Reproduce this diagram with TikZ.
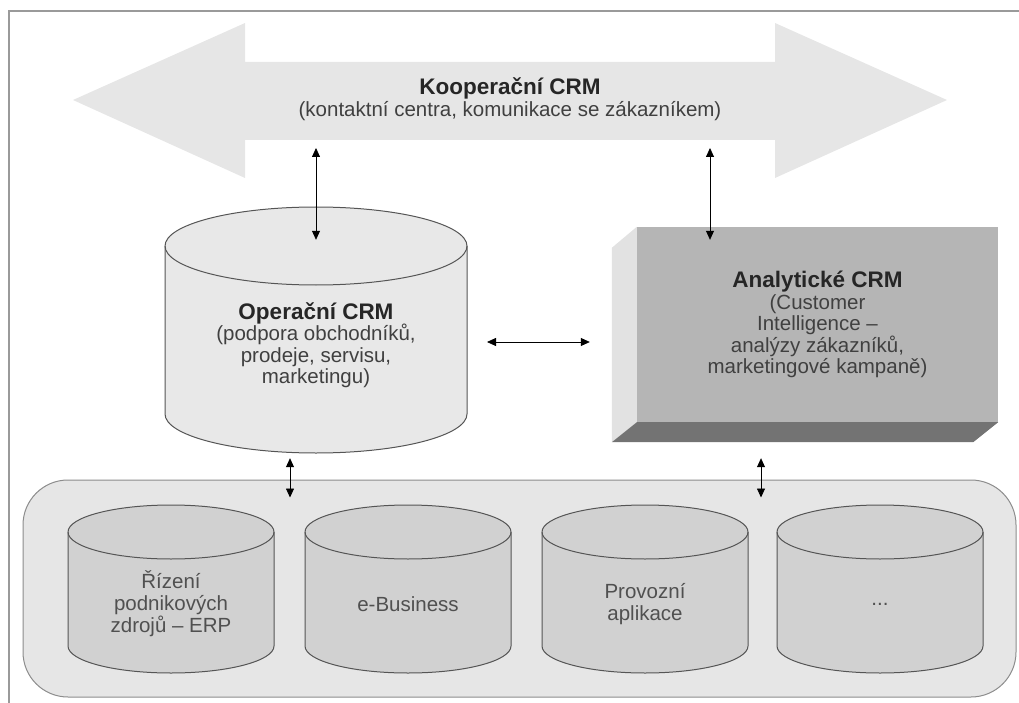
\documentclass[tikz,border=0pt]{standalone}
\usepackage{fontspec}
\setmainfont{Liberation Sans}
\usetikzlibrary{arrows.meta,calc}

\definecolor{framegray}{HTML}{9A9A9A}
\definecolor{bandgray}{HTML}{E6E6E6}
\definecolor{opergray}{HTML}{E8E8E8}
\definecolor{frontgray}{HTML}{B5B5B5}
\definecolor{sidegray}{HTML}{E2E2E2}
\definecolor{floorgray}{HTML}{737373}
\definecolor{basefill}{HTML}{E6E6E6}
\definecolor{baseline}{HTML}{8C8C8C}
\definecolor{appgray}{HTML}{D1D1D1}
\definecolor{cylline}{HTML}{555555}
\definecolor{txtdark}{HTML}{262626}
\definecolor{txtmid}{HTML}{404040}
\definecolor{txtlight}{HTML}{505050}

\tikzset{
  link/.style={{Triangle[length=9pt,width=8pt]}-{Triangle[length=9pt,width=8pt]}, line width=0.8pt},
  cylbody/.style={draw=cylline, line width=1pt},
  subtxt/.style={align=center, text=txtmid, font=\fontsize{20.5}{21.5}\selectfont},
  apptxt/.style={align=center, text=txtlight, font=\fontsize{20.5}{22}\selectfont}
}
\newcommand{\crmtitle}[1]{{\fontsize{22.5}{24}\selectfont\bfseries\color{txtdark}#1}}
% name, centre, half width, half height, end radius, fill
\newcommand{\dbcyl}[6]{%
  \node[minimum width=2*#3, minimum height=2*#4, inner sep=0] (#1) at (#2) {};
  \begin{scope}[shift={(#2)}]
    \filldraw[cylbody, fill=#6] (-#3,-#4+#5) -- (-#3,#4-#5)
      arc[start angle=180, end angle=0, x radius=#3, y radius=#5] -- (#3,-#4+#5)
      arc[start angle=0, end angle=-180, x radius=#3, y radius=#5] -- cycle;
    \draw[cylbody] (-#3,-#4+#5) arc[start angle=180, end angle=0, x radius=#3, y radius=#5];
  \end{scope}}

\begin{document}
\begin{tikzpicture}[x=1pt,y=-1pt]
        \useasboundingbox (0,0) rectangle (1019,703);
        \draw[framegray, line width=2pt] (9,703) -- (9,11) -- (1019,11);

        % cooperative band
        \fill[bandgray] (73,100) -- (245,23) -- (245,62) -- (775,62) -- (775,23)
          -- (947,100) -- (775,178) -- (775,140) -- (245,140) -- (245,178) -- cycle;
        \node[align=center, text=txtmid, font=\fontsize{20.5}{22}\selectfont] (koop) at (510,99)
          {\crmtitle{Kooperační CRM}\\(kontaktní centra, komunikace se zákazníkem)};

        % operational CRM
        \dbcyl{oper}{316,330}{151}{123}{39}{opergray}
        \node[subtxt] (oper-txt) at ([yshift=-15pt]oper.center)
          {\crmtitle{Operační CRM}\\(podpora obchodníků,\\prodeje, servisu,\\marketingu)};

        % analytical CRM
        \node[fill=frontgray, minimum width=361, minimum height=195, subtxt] (anal) at (817.5,324.5)
          {\crmtitle{Analytické CRM}\\(Customer\\Intelligence –\\analýzy zákazníků,\\marketingové kampaně)};
        \fill[sidegray] (anal.north west) -- ++(-25,21) -- ($(anal.south west)+(-25,20)$) -- (anal.south west) -- cycle;
        \fill[floorgray] (anal.south west) -- ++(-25,20) -- ($(anal.south east)+(-25,20)$) -- (anal.south east) -- cycle;

        % back-office systems
        \node[draw=baseline, fill=basefill, line width=1pt, rounded corners=45pt,
          minimum width=993, minimum height=217] (base) at (519.5,588.5) {};
        \foreach \x/\txt [count=\i] in {171/{Řízení\\podnikových\\zdrojů – ERP}, 408/{e-Business},
            645/{Provozní\\aplikace}, 880/{...}}{
          \dbcyl{app\i}{\x,589}{103}{84}{27}{appgray}
          \node[apptxt] (app\i-txt) at ([yshift=-15pt]app\i.center) {\txt};
        }

        % links
        \coordinate (kL) at (316,148);
        \coordinate (kR) at (710,148);
        \draw[link] (kL) -- ([yshift=-33pt]oper.north);
        \draw[link] (kR) -- ([xshift=-107.5pt,yshift=-13pt]anal.north);
        \draw[link] ([xshift=171pt,yshift=-12pt]oper.center) -- ([xshift=-47pt,yshift=-17.5pt]anal.west);
        \draw[link] ([xshift=-26pt,yshift=-5pt]oper.south) -- ([xshift=-229.5pt,yshift=-18pt]base.north);
        \draw[link] ([xshift=-56.5pt,yshift=-36pt]anal.south) -- ([xshift=241.5pt,yshift=-18pt]base.north);
\end{tikzpicture}
\end{document}
